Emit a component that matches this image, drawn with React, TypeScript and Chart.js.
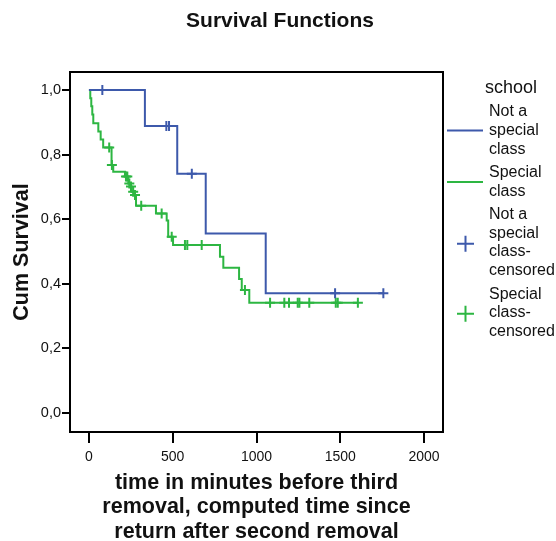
import { useEffect, useRef } from 'react';
import { Chart, registerables } from 'chart.js';

Chart.register(...registerables);

// ---- data ----
const xTicks = [0, 500, 1000, 1500, 2000];
const yTicks = [0, 0.2, 0.4, 0.6, 0.8, 1.0];

const notSpecialTimes = [0, 334, 527, 697, 1055, 1757];
const notSpecialSurv = [1.0, 0.889, 0.741, 0.556, 0.371, 0.371];
const notSpecialCensored = [80, 462, 478, 614, 1469, 1757];

const specialTimes = [0, 8, 14, 20, 26, 56, 70, 85, 135, 145, 215, 235, 245, 255, 268, 281, 400, 464, 473, 502, 782, 802, 896, 912, 957, 1605];
const specialSurv = [1.0, 0.975, 0.95, 0.924, 0.897, 0.872, 0.847, 0.822, 0.768, 0.747, 0.732, 0.711, 0.701, 0.685, 0.675, 0.642, 0.618, 0.596, 0.546, 0.52, 0.484, 0.45, 0.415, 0.381, 0.341, 0.341];
const specialCensored = [121, 137, 221, 229, 241, 251, 264, 275, 312, 434, 494, 573, 587, 673, 931, 1081, 1166, 1194, 1246, 1256, 1315, 1473, 1485, 1605];

const BLUE = '#3d59ab';
const GREEN = '#2db642';
const FONT = "'Liberation Sans', Arial, Helvetica, sans-serif";

function survAt(times: number[], surv: number[], t: number) {
  let v = surv[0];
  for (let i = 0; i < times.length; i++) if (times[i] <= t) v = surv[i];
  return v;
}

const legendItems = [
  { lines: ['Not a', 'special', 'class'], color: BLUE, kind: 'line' },
  { lines: ['Special', 'class'], color: GREEN, kind: 'line' },
  { lines: ['Not a', 'special', 'class-', 'censored'], color: BLUE, kind: 'cross' },
  { lines: ['Special', 'class-', 'censored'], color: GREEN, kind: 'cross' },
];

const decorPlugin = {
  id: 'decor',
  afterDraw(chart: any) {
    const ctx = chart.ctx as CanvasRenderingContext2D;
    const a = chart.chartArea;
    ctx.save();
    // frame
    ctx.strokeStyle = '#000';
    ctx.lineWidth = 2;
    ctx.strokeRect(a.left, a.top, a.right - a.left, a.bottom - a.top);

    ctx.fillStyle = '#111';
    ctx.textAlign = 'center';
    ctx.textBaseline = 'middle';
    // title
    ctx.font = `bold 21px ${FONT}`;
    ctx.fillText('Survival Functions', 280, 21);
    // x title
    const cx = (a.left + a.right) / 2;
    ctx.font = `bold 21.5px ${FONT}`;
    ['time in minutes before third', 'removal, computed time since', 'return after second removal'].forEach((s, i) => {
      ctx.fillText(s, cx, 483 + i * 24.5);
    });
    // y title
    ctx.save();
    ctx.translate(22, (a.top + a.bottom) / 2);
    ctx.rotate(-Math.PI / 2);
    ctx.fillText('Cum Survival', 0, 0);
    ctx.restore();

    // legend
    ctx.textAlign = 'left';
    ctx.font = `18px ${FONT}`;
    ctx.fillText('school', 485, 88);
    ctx.font = `16px ${FONT}`;
    const lh = 18.6;
    let y = 112;
    legendItems.forEach((it) => {
      const start = y;
      it.lines.forEach((s) => {
        ctx.fillText(s, 489, y);
        y += lh;
      });
      const mid = (start + y - lh) / 2;
      ctx.strokeStyle = it.color;
      ctx.lineWidth = 2;
      ctx.beginPath();
      if (it.kind === 'line') {
        ctx.moveTo(447, mid);
        ctx.lineTo(483, mid);
      } else {
        ctx.moveTo(457, mid + 1);
        ctx.lineTo(474, mid + 1);
        ctx.moveTo(465.5, mid - 7);
        ctx.lineTo(465.5, mid + 9);
      }
      ctx.stroke();
      y += 23.5 - lh;
    });
    ctx.restore();
  },
};

export default function App() {
  const ref = useRef<HTMLCanvasElement>(null);
  useEffect(() => {
    const mk = (times: number[], surv: number[]) => times.map((t, i) => ({ x: t, y: surv[i] }));
    const cens = (times: number[], surv: number[], c: number[]) => c.map((t) => ({ x: t, y: survAt(times, surv, t) }));
    const chart = new Chart(ref.current!, {
      type: 'scatter',
      data: {
        datasets: [
          {
            label: 'Not a special class',
            data: mk(notSpecialTimes, notSpecialSurv),
            showLine: true,
            stepped: true,
            borderColor: BLUE,
            borderWidth: 2,
            pointRadius: 0,
          },
          {
            label: 'Special class',
            data: mk(specialTimes, specialSurv),
            showLine: true,
            stepped: true,
            borderColor: GREEN,
            borderWidth: 2,
            pointRadius: 0,
          },
          {
            label: 'Not a special class-censored',
            data: cens(notSpecialTimes, notSpecialSurv, notSpecialCensored),
            showLine: false,
            pointStyle: 'cross',
            pointRadius: 5,
            pointBorderWidth: 2,
            borderColor: BLUE,
            backgroundColor: BLUE,
          },
          {
            label: 'Special class-censored',
            data: cens(specialTimes, specialSurv, specialCensored),
            showLine: false,
            pointStyle: 'cross',
            pointRadius: 5,
            pointBorderWidth: 2,
            borderColor: GREEN,
            backgroundColor: GREEN,
          },
        ] as any,
      },
      options: {
        animation: false,
        responsive: false,
        layout: { padding: { left: 0, top: 72, right: 113, bottom: 0 } },
        plugins: { legend: { display: false }, tooltip: { enabled: false }, title: { display: false } },
        scales: {
          x: {
            type: 'linear',
            min: -113,
            max: 2113,
            afterBuildTicks: (axis: any) => {
              axis.ticks = xTicks.map((v) => ({ value: v }));
            },
            afterFit: (axis: any) => {
              axis.height = 109;
            },
            grid: { drawOnChartArea: false, drawTicks: true, tickLength: 11, color: '#000', lineWidth: 2 },
            border: { display: true, color: '#000', width: 2 },
            ticks: {
              font: { size: 14, family: FONT },
              color: '#111',
              padding: 6,
              maxRotation: 0,
              callback: (v: any) => String(Math.round(Number(v))),
            },
          },
          y: {
            type: 'linear',
            min: -0.059,
            max: 1.056,
            afterBuildTicks: (axis: any) => {
              axis.ticks = yTicks.map((v) => ({ value: v }));
            },
            afterFit: (axis: any) => {
              axis.width = 70;
            },
            grid: { drawOnChartArea: false, drawTicks: true, tickLength: 8, color: '#000', lineWidth: 2 },
            border: { display: true, color: '#000', width: 2 },
            ticks: {
              font: { size: 14.5, family: FONT },
              color: '#111',
              padding: 1,
              callback: (v: any) => Number(v).toFixed(1).replace('.', ','),
            },
          },
        },
      },
      plugins: [decorPlugin],
    });
    return () => chart.destroy();
  }, []);
  return (
    <div style={{ position: 'absolute', left: 0, top: 0, width: 556, height: 541 }}>
      <canvas ref={ref} width={556} height={541} style={{ display: 'block' }} />
    </div>
  );
}
